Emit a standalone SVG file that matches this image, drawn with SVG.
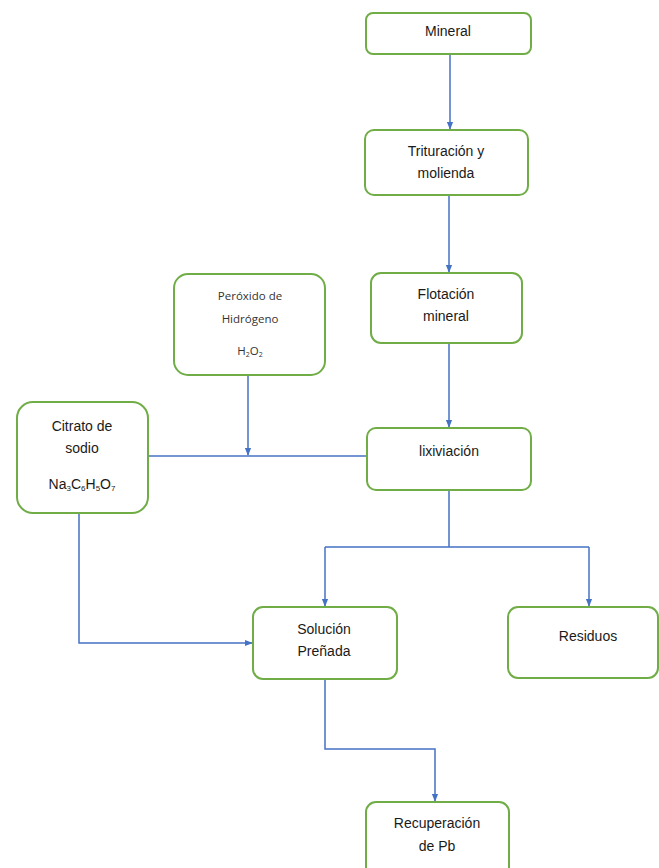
<svg xmlns="http://www.w3.org/2000/svg" width="659" height="868" viewBox="0 0 659 868">
<defs>
<style>
.box{fill:#fff;stroke:#70AD47;stroke-width:2}
.t{font-family:"Liberation Sans",Arial,sans-serif;font-size:14px;fill:#1a1a1a;text-anchor:middle}
.s{font-family:"Open Sans","Noto Sans",sans-serif;font-size:11.5px;fill:#333;text-anchor:middle}
.c{fill:none;stroke:#4472C4;stroke-width:1.5}
</style>
<marker id="ah" viewBox="0 0 10 10" refX="9" refY="5" markerWidth="8" markerHeight="8" orient="auto" markerUnits="userSpaceOnUse"><path d="M0,1 L10,5 L0,9 z" fill="#4472C4"/></marker>
</defs>
<rect width="659" height="868" fill="#fff"/>
<g id="connectors">
<path class="c" d="M450,54 V129" marker-end="url(#ah)"/>
<path class="c" d="M449,195 V272" marker-end="url(#ah)"/>
<path class="c" d="M449,343 V427" marker-end="url(#ah)"/>
<path class="c" d="M148,456 H367"/>
<path class="c" d="M248,375 V455" marker-end="url(#ah)"/>
<path class="c" d="M449,490 V547 M325,547 H589"/>
<path class="c" d="M325,547 V606" marker-end="url(#ah)"/>
<path class="c" d="M589,547 V606" marker-end="url(#ah)"/>
<path class="c" d="M79,513 V643 H252" marker-end="url(#ah)"/>
<path class="c" d="M325,679 V749 H435 V801" marker-end="url(#ah)"/>
</g>
<g id="mineral"><rect class="box" x="366" y="13" width="165" height="41" rx="7"/><text class="t" x="448" y="36">Mineral</text></g>
<g id="trituracion"><rect class="box" x="365" y="130" width="163" height="65" rx="9"/><text class="t" x="446" y="156">Trituración y</text><text class="t" x="446" y="178">molienda</text></g>
<g id="flotacion"><rect class="box" x="371" y="273" width="151" height="70" rx="10"/><text class="t" x="446" y="299">Flotación</text><text class="t" x="446" y="321">mineral</text></g>
<g id="peroxido"><rect class="box" x="174" y="274" width="151" height="101" rx="14"/><text class="s" x="250" y="300">Peróxido de</text><text class="s" x="250" y="323">Hidrógeno</text><text class="s" x="250" y="355">H<tspan font-size="7" dy="2">2</tspan><tspan dy="-2">O</tspan><tspan font-size="7" dy="2">2</tspan></text></g>
<g id="lixiviacion"><rect class="box" x="367" y="428" width="164" height="62" rx="9"/><text class="t" x="449" y="456">lixiviación</text></g>
<g id="citrato"><rect class="box" x="17" y="402" width="131" height="111" rx="16"/><text class="t" x="82" y="431">Citrato de</text><text class="t" x="82" y="453">sodio</text><text class="t" x="82" y="489">Na<tspan font-size="8" dy="2">3</tspan><tspan dy="-2">C</tspan><tspan font-size="8" dy="2">6</tspan><tspan dy="-2">H</tspan><tspan font-size="8" dy="2">5</tspan><tspan dy="-2">O</tspan><tspan font-size="8" dy="2">7</tspan></text></g>
<g id="solucion"><rect class="box" x="253" y="607" width="144" height="72" rx="10"/><text class="t" x="324" y="634">Solución</text><text class="t" x="324" y="656">Preñada</text></g>
<g id="residuos"><rect class="box" x="508" y="607" width="150" height="71" rx="10"/><text class="t" x="588" y="641">Residuos</text></g>
<g id="recuperacion"><rect class="box" x="366" y="802" width="143" height="80" rx="10"/><text class="t" x="437" y="828">Recuperación</text><text class="t" x="437" y="851">de Pb</text></g>
</svg>
